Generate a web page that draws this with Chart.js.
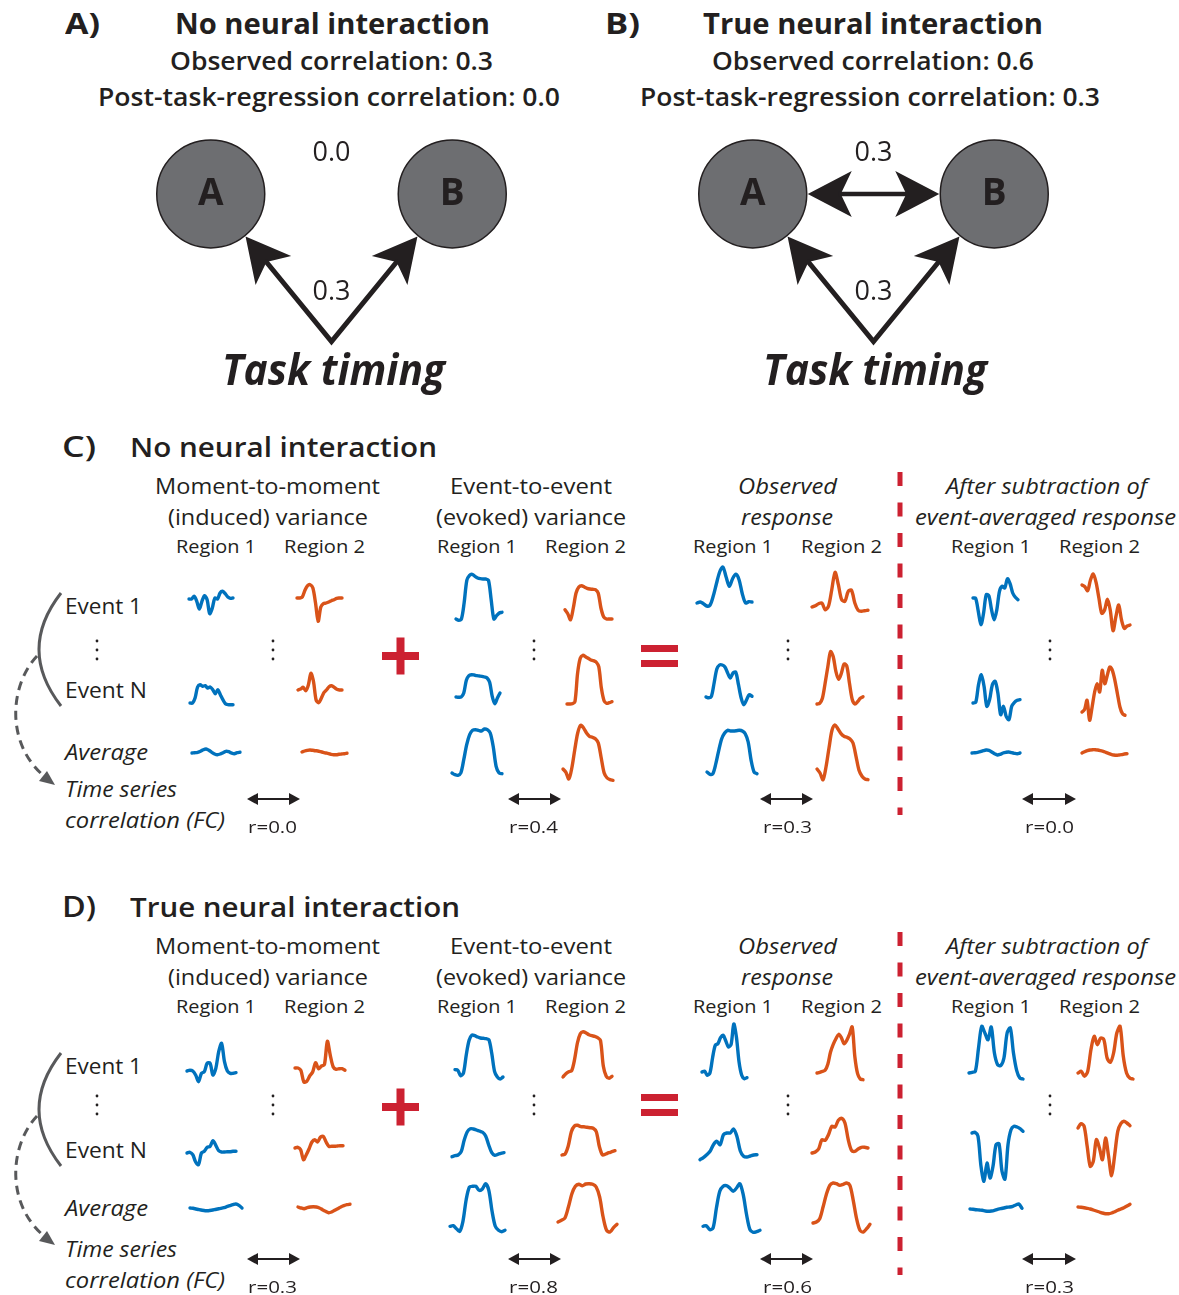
<!DOCTYPE html>
<html>
<head>
<meta charset="utf-8">
<script src="https://cdn.jsdelivr.net/npm/chart.js@4.4.1/dist/chart.umd.min.js"></script>
<style>
  body { margin: 0; background: #fff; }
  #page { position: relative; width: 1179px; height: 1295px; overflow: hidden; font-family: 'Open Sans', sans-serif; color: #231f20; }
  .t { position: absolute; white-space: nowrap; line-height: 1; transform-origin: 0 0; }
  canvas { position: absolute; }
  #deco { position: absolute; left: 0; top: 0; }
</style>
</head>
<body>
<div id="page"><svg id="deco" width="1179" height="1295"></svg></div>
<script>
// ---- data ----
const panelTitles = ['No neural interaction', 'True neural interaction'];
const observedCorr = [0.3, 0.6];
const postTaskCorr = [0.0, 0.3];
const neuralWeight = [0.0, 0.3];   // A <-> B
const taskWeight = [0.3, 0.3];     // task -> A, task -> B
const nodeNames = ['A', 'B'];

const fcC = [0.0, 0.4, 0.3, 0.0];
const fcD = [0.3, 0.8, 0.6, 0.3];

// each trace: [event 1, event N, average], 18 samples, signal units
const cInduced1 = [
  [0, 0, 0.27, -0.23, -1.0, -0.23, 0.33, -0.07, -1.47, -0.9, 0.1, 0, 0.6, 0.77, 0.53, 0.2, 0.07, 0.1],
  [0, 0, 0.5, 1.6, 1.83, 1.67, 1.73, 1.5, 1.6, 1.33, 0.93, 1.33, 0.83, 0.33, -0.07, -0.17, -0.17, -0.17],
  [0, 0.03, 0.07, 0.17, 0.33, 0.4, 0.27, 0.07, -0.1, -0.17, -0.1, 0.03, 0.17, 0.13, 0, -0.07, 0.03, 0.07]
];
const cInduced2 = [
  [0, 0, 0.1, 0.77, 1.23, 1.33, 1.0, -0.5, -2.33, -0.9, -0.57, -0.5, -0.4, -0.27, -0.17, -0.03, 0, 0],
  [0, 0.1, 0.27, -0.07, 0.5, 1.67, 0.83, -1.0, -1.27, -0.83, -0.27, 0, 0.33, 0.43, 0.27, 0.07, 0, 0],
  [0.1, 0.2, 0.27, 0.3, 0.27, 0.23, 0.2, 0.13, 0.07, 0, -0.07, -0.13, -0.17, -0.17, -0.13, -0.1, -0.07, -0.03]
];
const cEvoked1 = [
  [-0.1, -0.23, -0.1, 1.5, 3.77, 4.27, 4.37, 4.17, 4.0, 3.93, 3.9, 3.9, 3.77, 1.83, -0.1, 0.23, 0.5, 0.57],
  [0, -0.03, 0, 0.4, 1.67, 2.13, 2.23, 2.2, 2.13, 2.1, 2.07, 2.0, 1.9, 1.47, 0.07, -0.67, -0.1, 0.4],
  [0, -0.17, -0.23, 0, 1.33, 2.83, 3.83, 4.27, 4.33, 4.27, 4.2, 4.4, 4.33, 4.0, 2.67, 0.67, 0, -0.07]
];
const cEvoked2 = [
  [0.93, 0.53, -0.07, 1.1, 2.6, 3.2, 3.33, 3.2, 3.07, 3.0, 2.97, 2.93, 2.6, 1.1, 0.2, 0, 0, 0],
  [0, 0, 0.03, 0.23, 3.07, 4.57, 4.87, 4.73, 4.57, 4.4, 4.33, 4.2, 3.73, 1.57, 0.33, 0.07, 0.13, 0.23],
  [0.9, 0.57, -0.1, 1.0, 2.83, 4.5, 5.27, 5.0, 4.5, 4.17, 4.07, 3.93, 3.5, 2.0, 0.5, 0, -0.17, -0.23]
];
const cObserved1 = [
  [0, 0.1, -0.07, -0.3, -0.23, 0.67, 1.93, 3.1, 3.6, 2.6, 1.67, 2.43, 2.87, 2.33, 0.93, 0, 0.13, 0.1],
  [0, -0.07, 0.07, 1.4, 2.8, 3.2, 3.2, 3.0, 2.4, 1.9, 2.4, 2.47, 1.23, -0.1, -0.77, -0.27, 0.23, 0.07],
  [0.1, -0.13, -0.07, 0.93, 2.27, 3.43, 4.0, 4.27, 4.2, 4.2, 4.23, 4.27, 4.2, 3.93, 3.1, 1.27, 0.1, -0.07]
];
const cObserved2 = [
  [0.1, 0.23, 0.43, 0.5, -0.17, 0.17, 1.83, 3.57, 2.33, 0.83, 0.67, 1.67, 1.77, 0.5, -0.23, -0.33, -0.27, -0.23],
  [0, 0.07, 0.57, 2.07, 3.73, 5.23, 4.73, 3.23, 2.47, 3.07, 4.0, 3.8, 2.07, 0.47, 0, 0.23, 0.57, 0.73],
  [0.9, 0.5, -0.17, 1.1, 3.0, 4.77, 5.3, 4.9, 4.43, 4.17, 4.07, 3.9, 3.5, 2.17, 0.77, 0.17, -0.1, -0.17]
];
const cResidual1 = [
  [0, -0.03, -1.33, -2.67, -1.5, 0.33, 0.23, -1.17, -2.17, -1.17, 0.67, 1.17, 1.0, 1.93, 1.43, 0.5, 0.07, -0.17],
  [0, 0.07, 1.83, 2.83, 1.67, -0.33, 0.33, 1.83, 2.17, 1.0, -1.17, -0.33, -1.33, -1.67, -0.33, 0.07, 0.27, 0.33],
  [0, 0.03, 0.07, 0.13, 0.23, 0.3, 0.27, 0.1, -0.07, -0.2, -0.13, 0, 0.07, 0.1, 0.03, -0.03, -0.07, 0]
];
const cResidual2 = [
  [0, -0.17, -0.57, 0.5, 1.1, 0.23, -1.33, -2.83, -2.5, -1.43, -2.5, -4.57, -3.17, -2.0, -3.5, -4.33, -4.1, -4.0],
  [0, 0.23, 1.17, -0.83, 0.5, 2.0, 2.83, 2.0, 4.17, 2.83, 3.67, 4.5, 4.17, 3.17, 1.83, 0.5, -0.17, -0.33],
  [0, 0.13, 0.23, 0.3, 0.33, 0.33, 0.3, 0.23, 0.17, 0.07, -0.03, -0.13, -0.2, -0.23, -0.2, -0.17, -0.1, -0.07]
];

const dInduced1 = [
  [0, 0.07, 0, -0.4, -1.07, -0.23, -0.07, 0.77, 0.77, -0.4, 0.27, 1.93, 2.77, 0.93, 0, -0.23, -0.23, -0.17],
  [0, 0.07, -0.17, -0.9, -1.17, 0, 0.17, 0.57, 0.67, 1.23, 0.77, 0.23, 0.1, 0.1, 0.13, 0.13, 0.17, 0.17],
  [0, -0.03, -0.1, -0.17, -0.23, -0.27, -0.27, -0.23, -0.17, -0.1, -0.03, 0.03, 0.13, 0.23, 0.33, 0.4, 0.27, 0]
];
const dInduced2 = [
  [0, 0, -0.23, -1.4, -1.33, -0.8, -0.4, 0.53, -0.07, 0.2, 0.33, 2.67, 1.27, 0.1, -0.13, -0.07, -0.07, -0.23],
  [0, 0.07, -0.17, -1.17, -0.67, -0.07, 0.6, 0.83, 0.6, 1.07, 1.17, 0.6, 0.17, 0.17, 0.17, 0.2, 0.23, 0.23],
  [0, -0.1, -0.17, -0.07, 0, 0.03, 0, -0.1, -0.27, -0.43, -0.57, -0.5, -0.33, -0.17, 0, 0.13, 0.23, 0.27]
];
const dEvoked1 = [
  [0.73, 0.67, 0.13, 0.4, 2.23, 3.67, 4.2, 4.13, 4.0, 3.9, 3.87, 3.83, 3.73, 2.4, 0.57, 0, -0.2, 0],
  [-0.07, 0.03, 0.1, 0.43, 1.6, 2.43, 2.73, 2.7, 2.6, 2.5, 2.37, 2.0, 1.1, 0.33, 0.07, 0.17, 0.27, 0.33],
  [0.17, 0.23, -0.07, -0.33, 0.67, 2.83, 4.1, 4.17, 4.17, 3.77, 3.9, 4.43, 3.77, 1.67, 0.17, -0.23, -0.37, -0.23]
];
const dEvoked2 = [
  [0, 0.33, 0.53, 0.63, 1.73, 3.4, 4.33, 4.53, 4.4, 4.23, 4.13, 4.07, 3.93, 3.67, 1.07, 0.07, -0.13, 0.07],
  [0, 0.1, 0.9, 2.33, 2.9, 2.97, 2.83, 2.83, 2.77, 2.73, 2.67, 2.33, 0.83, 0, 0.1, 0.23, 0.33, 0.43],
  [0, 0.17, 0.4, 1.5, 2.83, 3.57, 3.77, 3.63, 3.8, 3.83, 3.77, 3.5, 2.5, 0.5, -0.83, -1.0, -0.57, -0.23]
];
const dObserved1 = [
  [0.1, 0.17, -0.23, 0, 1.53, 2.77, 2.93, 3.53, 3.77, 3.2, 2.6, 2.87, 4.9, 3.6, 1.1, -0.23, -0.57, -0.47],
  [-0.07, 0.13, 0.43, 0.77, 1.43, 1.77, 1.43, 2.43, 2.6, 2.6, 3.0, 2.27, 0.83, 0.27, 0.2, 0.3, 0.4, 0.43],
  [0.17, 0.23, -0.17, 0, 2.0, 3.67, 4.17, 4.23, 4.0, 3.67, 4.0, 4.43, 3.33, 1.33, -0.17, -0.43, -0.37, -0.23]
];
const dObserved2 = [
  [0, 0.07, 0.17, 0.27, 0.87, 2.1, 2.87, 3.43, 3.87, 3.53, 2.93, 3.27, 3.87, 4.6, 1.6, -0.07, -0.6, -0.67],
  [0, 0.1, 0.4, 1.33, 1.27, 1.83, 2.67, 2.6, 3.27, 3.47, 3.0, 1.33, 0.27, 0.17, 0.4, 0.57, 0.57, 0.5],
  [-0.1, 0, 0.33, 1.5, 2.77, 3.67, 3.9, 3.83, 3.67, 3.77, 3.9, 3.67, 2.17, 0.33, -0.83, -1.0, -0.67, -0.23]
];
const dResidual1 = [
  [0, 0.07, 0.17, 2.5, 4.67, 4.0, 3.33, 4.6, 2.0, 0.83, 0.73, 1.5, 4.0, 4.5, 2.0, 0.27, -0.5, -0.6],
  [0, 0.07, -0.33, -3.33, -4.83, -3.0, -4.5, -3.33, -1.17, -1.07, -3.83, -4.6, -1.17, 0.33, 0.67, 0.6, 0.43, 0.17],
  [0, -0.03, -0.07, -0.1, -0.13, -0.2, -0.23, -0.2, -0.13, -0.03, 0.03, 0.1, 0.17, 0.2, 0.27, 0.4, 0.5, 0.07]
];
const dResidual2 = [
  [0, 0.17, -0.33, 0.17, 2.33, 3.67, 2.83, 3.5, 3.33, 1.5, 1.07, 2.0, 4.0, 4.67, 1.67, 0, -0.5, -0.6],
  [0, 0.43, 0.17, -1.83, -3.83, -3.33, -1.17, -2.0, -3.17, -1.0, -2.83, -4.77, -2.67, -0.33, 0.43, 0.67, 0.5, 0.23],
  [0, -0.03, -0.07, -0.13, -0.2, -0.3, -0.4, -0.5, -0.6, -0.67, -0.67, -0.6, -0.47, -0.33, -0.2, -0.07, 0.1, 0.27]
];

// ---- layout: [left px, right px, baseline px] per row ----
const cBoxes = [
  [[189, 233, 599.3], [190, 233, 703.3], [192, 240, 752.7]],
  [[297, 342, 598.3], [298, 342, 690], [302, 347, 752.7]],
  [[456, 502, 618.3], [456, 500, 697.3], [452, 502, 773.3]],
  [[565, 612, 619.3], [567, 612, 704], [563, 613, 778.3]],
  [[697, 752, 602.7], [706, 752, 697.3], [707, 757, 772.7]],
  [[812, 868, 608.3], [817, 863, 704], [817, 868, 778.3]],
  [[973, 1018, 598.3], [973, 1020, 703.3], [972, 1020, 752.7]],
  [[1082, 1130, 585], [1082, 1125, 711.7], [1082, 1127, 752.7]]
];
const dBoxes = [
  [[187, 236, 1071], [187, 236, 1153.3], [190, 242, 1208.3]],
  [[295, 345, 1067.7], [295, 343, 1148.3], [298, 350, 1206.7]],
  [[455, 503, 1077.3], [452, 504, 1156], [450, 505, 1228.3]],
  [[563, 612, 1077.3], [562, 615, 1155], [558, 617, 1221.7]],
  [[702, 747, 1072.7], [700, 757, 1159.3], [703, 760, 1228.3]],
  [[817, 863, 1072.7], [812, 868, 1153.3], [813, 870, 1221.7]],
  [[969, 1023, 1073.3], [972, 1023, 1133.3], [970, 1022, 1209.3]],
  [[1078, 1133, 1073.3], [1078, 1130, 1128.3], [1078, 1130, 1206.7]]
];

const BLUE = '#0072bd';
const ORANGE = '#d95319';
const INK = '#231f20';
const GREY = '#58595b';
const RED = '#cc2131';

Chart.defaults.font.family = "'Open Sans', sans-serif";

const page = document.getElementById('page');
const svg = document.getElementById('deco');

function label(str, cx, cy, w, size, weight, italic) {
  const el = document.createElement('div');
  el.className = 't';
  el.textContent = str;
  el.style.fontSize = size + 'px';
  el.style.fontWeight = weight;
  if (italic) el.style.fontStyle = 'italic';
  page.appendChild(el);
  const mw = el.getBoundingClientRect().width;
  el.style.left = (cx - w / 2) + 'px';
  el.style.top = (cy - size * 0.53) + 'px';
  el.style.transform = 'scaleX(' + (w / mw) + ')';
}

function trace(vals, box, color) {
  const [x0, x1, base] = box;
  const pad = 3;
  const cv = document.createElement('canvas');
  cv.width = x1 - x0 + 2 * pad;
  cv.height = 120;
  cv.style.left = (x0 - pad) + 'px';
  cv.style.top = (base - 60) + 'px';
  page.appendChild(cv);
  new Chart(cv, {
    type: 'line',
    data: {
      labels: vals.map((v, i) => i),
      datasets: [{
        data: vals,
        borderColor: color,
        borderWidth: 3.4,
        pointRadius: 0,
        tension: 0.3,
        borderCapStyle: 'round',
        borderJoinStyle: 'round',
        fill: false,
        clip: false
      }]
    },
    options: {
      responsive: false,
      animation: false,
      events: [],
      layout: { autoPadding: false, padding: { left: pad, right: pad, top: 0, bottom: 0 } },
      plugins: { legend: { display: false }, tooltip: { enabled: false } },
      scales: {
        x: { display: false },
        y: { display: false, min: -6, max: 6 }
      }
    }
  });
}

function svgEl(tag, attrs) {
  const e = document.createElementNS('http://www.w3.org/2000/svg', tag);
  for (const k in attrs) e.setAttribute(k, attrs[k]);
  svg.appendChild(e);
  return e;
}

// ---- A / B network diagrams ----
const arrowPlugin = {
  id: 'arrows',
  beforeDatasetsDraw(chart, args, opts) {
    const ctx = chart.ctx;
    const meta = chart.getDatasetMeta(0);
    const xs = chart.scales.x, ys = chart.scales.y;
    const apex = { x: xs.getPixelForValue(0.5), y: ys.getPixelForValue(0) };
    const r = 55, L = 44, W = 23, N = 11;
    ctx.save();
    ctx.fillStyle = INK;
    ctx.strokeStyle = INK;
    function head(tip, d) {
      const px = -d.y, py = d.x;
      const bx = tip.x - L * d.x, by = tip.y - L * d.y;
      ctx.beginPath();
      ctx.moveTo(tip.x, tip.y);
      ctx.lineTo(bx + W * px, by + W * py);
      ctx.lineTo(tip.x - (L - N) * d.x, tip.y - (L - N) * d.y);
      ctx.lineTo(bx - W * px, by - W * py);
      ctx.closePath();
      ctx.fill();
      return { x: tip.x - (L - N - 2) * d.x, y: tip.y - (L - N - 2) * d.y };
    }
    const ends = meta.data.map(pt => {
      const dx = pt.x - apex.x, dy = pt.y - apex.y;
      const len = Math.hypot(dx, dy);
      const d = { x: dx / len, y: dy / len };
      return head({ x: pt.x - r * d.x, y: pt.y - r * d.y }, d);
    });
    ctx.lineWidth = 5;
    ctx.lineJoin = 'miter';
    ctx.miterLimit = 10;
    ctx.beginPath();
    ctx.moveTo(ends[0].x, ends[0].y);
    ctx.lineTo(apex.x, apex.y);
    ctx.lineTo(ends[1].x, ends[1].y);
    ctx.stroke();
    if (opts.neural > 0) {
      const a = meta.data[0], b = meta.data[1];
      const e1 = head({ x: b.x - r, y: b.y }, { x: 1, y: 0 });
      const e0 = head({ x: a.x + r, y: a.y }, { x: -1, y: 0 });
      ctx.lineWidth = 4.5;
      ctx.beginPath();
      ctx.moveTo(e0.x, e0.y);
      ctx.lineTo(e1.x, e1.y);
      ctx.stroke();
    }
    ctx.restore();
  },
  afterDatasetsDraw(chart, args, opts) {
    const ctx = chart.ctx;
    const meta = chart.getDatasetMeta(0);
    const xs = chart.scales.x, ys = chart.scales.y;
    ctx.save();
    ctx.fillStyle = INK;
    ctx.textAlign = 'center';
    ctx.textBaseline = 'middle';
    ctx.font = "bold 37px 'Open Sans'";
    meta.data.forEach((pt, i) => ctx.fillText(nodeNames[i], pt.x, pt.y + 1));
    ctx.font = "27px 'Open Sans'";
    const midX = (meta.data[0].x + meta.data[1].x) / 2;
    ctx.fillText(opts.neural.toFixed(1), midX, meta.data[0].y - 41);
    ctx.fillText(opts.task.toFixed(1), xs.getPixelForValue(0.5), ys.getPixelForValue(0) - 49);
    ctx.restore();
  }
};

function network(i, left) {
  const cv = document.createElement('canvas');
  cv.width = 483;
  cv.height = 266;
  cv.style.left = left + 'px';
  cv.style.top = '120px';
  page.appendChild(cv);
  new Chart(cv, {
    type: 'scatter',
    data: {
      datasets: [{
        data: nodeNames.map((n, k) => ({ x: k, y: 1 })),
        pointRadius: 54,
        pointBackgroundColor: '#6d6e71',
        pointBorderColor: INK,
        pointBorderWidth: 1.5,
        clip: false
      }]
    },
    options: {
      responsive: false,
      animation: false,
      events: [],
      layout: { autoPadding: false, padding: 0 },
      plugins: {
        legend: { display: false },
        tooltip: { enabled: false },
        arrows: { neural: neuralWeight[i], task: taskWeight[i] }
      },
      scales: {
        x: { display: false, type: 'linear', min: -0.5, max: 1.5 },
        y: { display: false, min: -0.3, max: 1.5 }
      }
    },
    plugins: [arrowPlugin]
  });
}

// top headings
label('A)', 82, 24, 35, 28, 700);
label(panelTitles[0], 332.5, 24, 315, 28, 700);
label('Observed correlation: ' + observedCorr[0].toFixed(1), 331.5, 61, 323, 25, 600);
label('Post-task-regression correlation: ' + postTaskCorr[0].toFixed(1), 329, 97, 462, 25, 600);
label('B)', 622, 24, 35, 28, 700);
label(panelTitles[1], 873, 24, 340, 28, 700);
label('Observed correlation: ' + observedCorr[1].toFixed(1), 873, 61, 322, 25, 600);
label('Post-task-regression correlation: ' + postTaskCorr[1].toFixed(1), 870, 97, 460, 25, 600);
network(0, 90);
network(1, 632);
label('Task timing', 333.5, 370, 223, 43, 700, true);
label('Task timing', 875, 370, 224, 43, 700, true);

// ---- C / D panels ----
function panel(letter, title, titleW, dy, series, boxes, fc) {
  label(letter, 79, 447 + dy, 34, 28, 600);
  label(title, 130 + titleW / 2, 447 + dy, titleW, 27, 600);
  label('Moment-to-moment', 267.5, 486 + dy, 225, 22, 400);
  label('(induced) variance', 268, 517 + dy, 200, 22, 400);
  label('Event-to-event', 531, 486 + dy, 162, 22, 400);
  label('(evoked) variance', 531, 517 + dy, 190, 22, 400);
  label('Observed', 787.5, 486 + dy, 99, 22, 400, true);
  label('response', 787, 517 + dy, 92, 22, 400, true);
  label('After subtraction of', 1046.5, 486 + dy, 201, 22, 400, true);
  label('event-averaged response', 1045.5, 517 + dy, 261, 22, 400, true);
  [216, 477, 733, 991].forEach(x => label('Region 1', x, 547 + dy, 80, 19, 400));
  [324.5, 585.5, 841.5, 1099.5].forEach(x => label('Region 2', x, 547 + dy, 81, 19, 400));
  label('Event 1', 103.5, 606 + dy, 77, 22, 400);
  label('Event N', 106, 690 + dy, 82, 22, 400);
  label('Average', 106.5, 752 + dy - (dy ? 4 : 0), 83, 22, 400, true);
  label('Time series', 121, 789 + dy, 112, 22, 400, true);
  label('correlation (FC)', 145, 820 + dy, 160, 22, 400, true);

  series.forEach((s, k) => s.forEach((vals, row) => trace(vals, boxes[k][row], k % 2 ? ORANGE : BLUE)));

  const arrowX = [[247, 300], [508, 561], [760, 813], [1022, 1076]];
  const rX = [272.5, 533, 787, 1049];
  fc.forEach((r, k) => {
    label('r=' + r.toFixed(1), rX[k], 827 + dy, 49, 17, 400);
    const [a, b] = arrowX[k], y = 799 + dy;
    svgEl('line', { x1: a + 8, y1: y, x2: b - 8, y2: y, stroke: INK, 'stroke-width': 2 });
    svgEl('polygon', { points: `${a},${y} ${a + 11},${y - 6} ${a + 11},${y + 6}`, fill: INK });
    svgEl('polygon', { points: `${b},${y} ${b - 11},${y - 6} ${b - 11},${y + 6}`, fill: INK });
  });

  // bracket and dashed arrow
  svgEl('path', { d: `M61 ${593 + dy} Q17 ${649.5 + dy} 61 ${706 + dy}`, stroke: GREY, 'stroke-width': 3, fill: 'none' });
  svgEl('path', { d: `M37 ${656 + dy} C9 ${686 + dy} 6 ${744 + dy} 44 ${776 + dy}`, stroke: GREY, 'stroke-width': 3, fill: 'none', 'stroke-dasharray': '9 6' });
  svgEl('polygon', { points: `55,${785 + dy} 39,${781 + dy} 47,${771 + dy}`, fill: GREY });

  // vertical ellipses
  const dotY = dy ? [1096, 1105, 1114] : [641, 650, 659];
  [97, 273, 534, 788, 1050].forEach(x => dotY.forEach(y => svgEl('circle', { cx: x, cy: y, r: 1.4, fill: INK })));

  // plus and equals
  const py = dy ? 1107 : 656, ey = dy ? 1105 : 656;
  svgEl('rect', { x: 382, y: py - 4, width: 37, height: 8, fill: RED });
  svgEl('rect', { x: 396.5, y: py - 18.5, width: 8, height: 37, fill: RED });
  svgEl('rect', { x: 641, y: ey - 11, width: 37, height: 7, fill: RED });
  svgEl('rect', { x: 641, y: ey + 4, width: 37, height: 7, fill: RED });

  // separator
  svgEl('line', { x1: 900, y1: 472 + dy, x2: 900, y2: 815 + dy, stroke: RED, 'stroke-width': 5, 'stroke-dasharray': '14 16.5' });
}

panel('C)', panelTitles[0], 307, 0,
  [cInduced1, cInduced2, cEvoked1, cEvoked2, cObserved1, cObserved2, cResidual1, cResidual2], cBoxes, fcC);
panel('D)', panelTitles[1], 330, 460,
  [dInduced1, dInduced2, dEvoked1, dEvoked2, dObserved1, dObserved2, dResidual1, dResidual2], dBoxes, fcD);
</script>
</body>
</html>
